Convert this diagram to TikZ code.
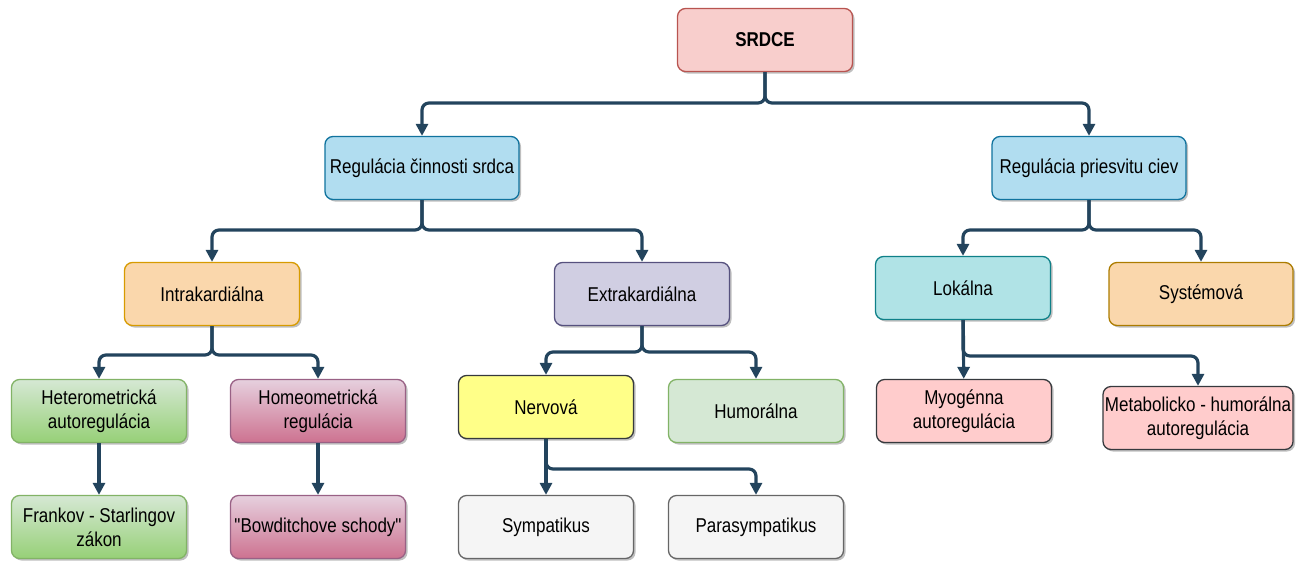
\documentclass[tikz,border=0pt]{standalone}
\usepackage{fontspec}
\setmainfont{Liberation Sans}[FakeStretch=0.85,Ligatures=TeXOff]
\usetikzlibrary{arrows.meta,shadows}
\definecolor{conncol}{HTML}{23445D}
\definecolor{redF}{HTML}{F8CECC}\definecolor{redD}{HTML}{B85450}
\definecolor{blueF}{HTML}{B1DDF0}\definecolor{blueD}{HTML}{10739E}
\definecolor{orF}{HTML}{FAD7AC}\definecolor{orD}{HTML}{D79B00}
\definecolor{purF}{HTML}{D0CEE2}\definecolor{purD}{HTML}{56517E}
\definecolor{tealF}{HTML}{B0E3E6}\definecolor{tealD}{HTML}{0E8088}
\definecolor{grT}{HTML}{D5E8D4}\definecolor{grB}{HTML}{97D077}\definecolor{grD}{HTML}{82B366}
\definecolor{pkT}{HTML}{E6D0DE}\definecolor{pkB}{HTML}{CD7290}\definecolor{pkD}{HTML}{996185}
\definecolor{yeF}{HTML}{FFFF88}\definecolor{dkD}{HTML}{36393D}
\definecolor{ltF}{HTML}{FFCCCC}
\definecolor{gyF}{HTML}{F5F5F5}\definecolor{gyD}{HTML}{666666}
\begin{document}
\begin{tikzpicture}[x=1pt,y=-1pt,
  box/.style={draw, rounded corners=8pt, line width=1.3pt, minimum width=175pt, minimum height=63pt,
     align=center, font=\fontsize{20}{24}\selectfont, inner sep=1pt,
     drop shadow={shadow xshift=2pt, shadow yshift=-2pt, opacity=0.25, fill=black}},
  conn/.style={draw=conncol, line width=3.2pt, rounded corners=7pt,
     -{Triangle[length=12pt,width=12pt]}}]
\useasboundingbox (0,0) rectangle (1303,560);
\node[box, fill=redF, draw=redD, font=\fontsize{20}{24}\selectfont\bfseries] (srdce) at (765,40) {SRDCE};
\node[box, fill=blueF, draw=blueD, minimum width=194pt] (reg1) at (422,168) {Regulácia činnosti srdca};
\node[box, fill=blueF, draw=blueD, minimum width=194pt] (reg2) at (1089,168) {Regulácia priesvitu ciev};
\node[box, fill=orF, draw=orD] (intra) at (212,294) {Intrakardiálna};
\node[box, fill=purF, draw=purD] (extra) at (642,294) {Extrakardiálna};
\node[box, fill=tealF, draw=tealD] (lok) at (963,288) {Lokálna};
\node[box, fill=orF, draw=orD!80!black, minimum width=184pt] (sys) at (1201,294) {Systémová};
\node[box, top color=grT, bottom color=grB, draw=grD] (het) at (99,411) {Heterometrická\\autoregulácia};
\node[box, top color=pkT, bottom color=pkB, draw=pkD] (hom) at (318,411) {Homeometrická\\regulácia};
\node[box, fill=yeF, draw=dkD] (nerv) at (546,407) {Nervová};
\node[box, fill=grT, draw=grD] (hum) at (756,411) {Humorálna};
\node[box, fill=ltF, draw=dkD] (myo) at (964,411) {Myogénna\\autoregulácia};
\node[box, fill=ltF, draw=dkD, minimum width=190pt] (meta) at (1198,418) {Metabolicko - humorálna\\autoregulácia};
\node[box, top color=grT, bottom color=grB, draw=grD] (frank) at (99,527) {Frankov - Starlingov\\zákon};
\node[box, top color=pkT, bottom color=pkB, draw=pkD] (bow) at (318,527) {"Bowditchove schody"};
\node[box, fill=gyF, draw=gyD] (sym) at (546,527) {Sympatikus};
\node[box, fill=gyF, draw=gyD] (para) at (756,527) {Parasympatikus};
\coordinate (j1) at (765,103);
\coordinate (j2) at (422,230);
\coordinate (j3) at (1089,230);
\coordinate (j4) at (212,355);
\coordinate (j5) at (642,352);
\coordinate (j6) at (963,356);
\coordinate (j7) at (546,469);
\draw[conn] (srdce) -- (j1) -| (reg1);
\draw[conn] (srdce) -- (j1) -| (reg2);
\draw[conn] (reg1) -- (j2) -| (intra);
\draw[conn] (reg1) -- (j2) -| (extra);
\draw[conn] (reg2) -- (j3) -| (lok);
\draw[conn] (reg2) -- (j3) -| (sys);
\draw[conn] (intra) -- (j4) -| (het);
\draw[conn] (intra) -- (j4) -| (hom);
\draw[conn] (extra) -- (j5) -| (nerv);
\draw[conn] (extra) -- (j5) -| (hum);
\draw[conn] (lok) -- (myo);
\draw[conn] (lok) -- (j6) -| (meta);
\draw[conn] (nerv) -- (sym);
\draw[conn] (nerv) -- (j7) -| (para);
\draw[conn] (het) -- (frank);
\draw[conn] (hom) -- (bow);
\end{tikzpicture}
\end{document}
